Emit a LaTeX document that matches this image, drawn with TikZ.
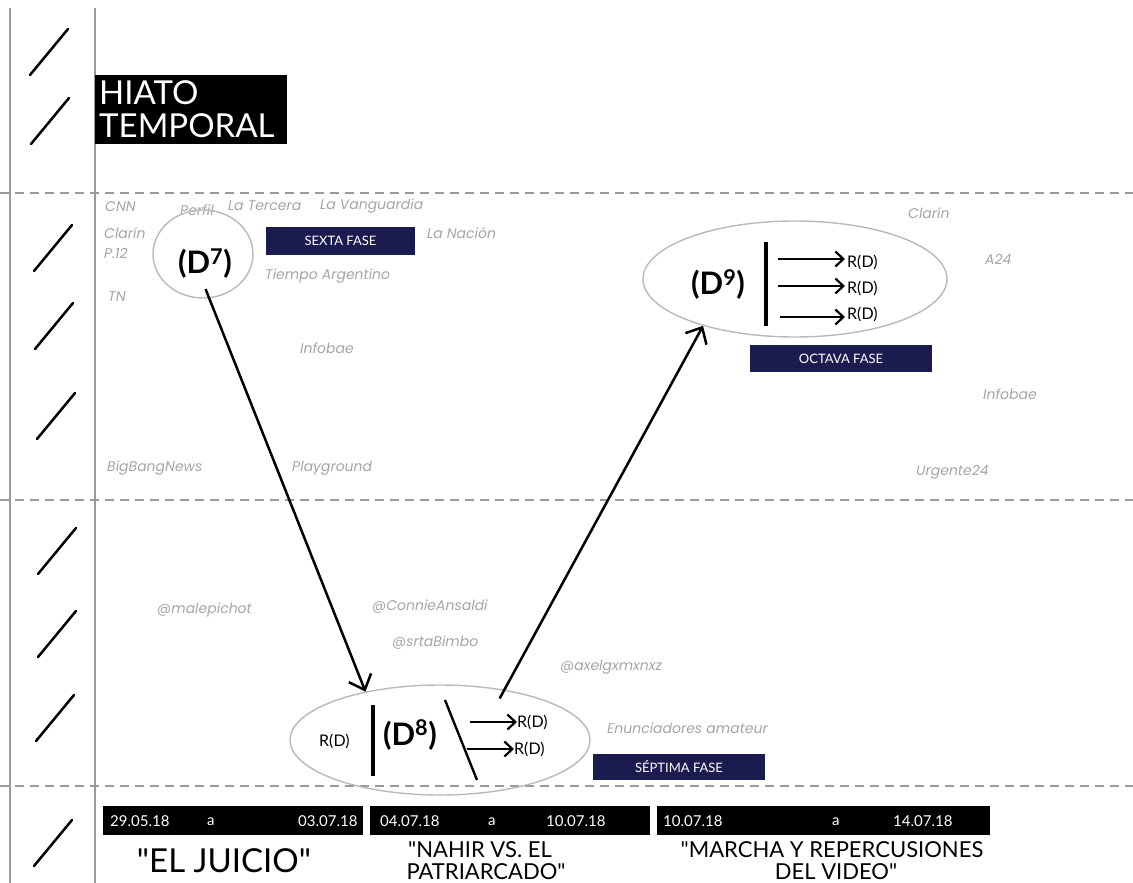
\documentclass[tikz,border=0pt]{standalone}
\usepackage{fontspec}
\setmainfont{Lato}
\newfontfamily\labf{Poppins}
\newfontfamily\tfont{Lato}
\usetikzlibrary{shapes.geometric,arrows.meta}
\definecolor{navy}{HTML}{1B1B50}
\definecolor{lab}{HTML}{A5A5A5}
\definecolor{rulec}{HTML}{9A9A9A}
\newcommand\fs[1]{\fontsize{#1}{#1}\selectfont}
\begin{document}
\begin{tikzpicture}[x=1pt,y=-1pt,
  vrule/.style={draw=rulec,line width=2.5pt},
  hdash/.style={draw=rulec,line width=1.3pt,dash pattern=on 9pt off 6pt},
  slashline/.style={line width=2.5pt,line cap=round},
  src/.style={anchor=west,inner sep=0pt,text=lab,font=\labf\itshape\fs{14}},
  fase/.style={fill=navy,text=white,font=\fs{13},inner sep=0pt},
  ell/.style={ellipse,draw=gray!55,line width=1.4pt,inner sep=0pt},
  bigarrow/.style={line width=2.5pt,-{Straight Barb[length=13pt,width=24pt,line width=2.5pt]}},
  smallarrow/.style={line width=2.2pt,-{Straight Barb[length=8pt,width=15pt,line width=2.2pt]}},
  bar/.style={line width=3.2pt},
  datebar/.style={fill=black,inner sep=0pt,minimum height=29pt},
  datetxt/.style={text=white,font=\fs{15},anchor=west,inner sep=0pt},
  dnode/.style={font=\bfseries\fs{31},inner sep=0pt},
  rd/.style={font=\fs{16},inner sep=0pt,anchor=west},
  title/.style={font=\tfont\fs{22},inner sep=0pt,anchor=base},
  hiatotxt/.style={font=\fs{33},text=white,inner sep=0pt,anchor=base west}]
\fill[white] (0,0) rectangle (1133,883);
\useasboundingbox (0,0) rectangle (1133,883);
% vertical rules
\draw[vrule] (10,8) -- (10,883);
\draw[vrule] (95,8) -- (95,883);
% dashed separators
\foreach \yy in {193,500,786} \draw[hdash] (0,\yy) -- (1133,\yy);
% slashes
\foreach \xx/\yy in {49/52,50/121,53/248,54/326,56/416,57/551,57/634,55/718,53/843}
  \draw[slashline] ({\xx-19},{\yy+23}) -- ({\xx+19},{\yy-23});
% hiato
\node[fill=black,anchor=north west,inner sep=0pt,minimum width=192pt,minimum height=69pt] (hiato) at (95,75) {};
\node[hiatotxt] (hiato1) at (99,104) {HIATO};
\node[hiatotxt] (hiato2) at (99,137) {TEMPORAL};
% labels
\node[src] (cnn) at (105,207) {CNN};
\node[src] (perfil) at (180,210) {Perfil};
\node[src] (tercera) at (228,206) {La Tercera};
\node[src] (vang) at (320,206) {La Vanguardia};
\node[src] (clarin1) at (104,233) {Clarín};
\node[src] (p12) at (104,253) {P.12};
\node[src] (nacion) at (427,233) {La Nación};
\node[src] (tiempo) at (265,276) {Tiempo Argentino};
\node[src] (tn) at (108,297) {TN};
\node[src] (infobae1) at (300,348) {Infobae};
\node[src] (bbn) at (107,468) {BigBangNews};
\node[src] (play) at (292,468) {Playground};
\node[src] (clarin2) at (908,213) {Clarín};
\node[src] (a24) at (985,259) {A24};
\node[src] (infobae2) at (983,394) {Infobae};
\node[src] (urg) at (916,472) {Urgente24};
\node[src] (male) at (157,610) {@malepichot};
\node[src] (connie) at (372,607) {@ConnieAnsaldi};
\node[src] (srta) at (392,643) {@srtaBimbo};
\node[src] (axel) at (560,667) {@axelgxmxnxz};
\node[src] (enun) at (607,728) {Enunciadores amateur};
% fase boxes
\node[fase,minimum width=149pt,minimum height=28pt] (sexta) at (340.5,241) {SEXTA FASE};
\node[fase,minimum width=182pt,minimum height=27pt] (octava) at (841,358.5) {OCTAVA FASE};
\node[fase,minimum width=172pt,minimum height=26pt] (septima) at (679,767) {SÉPTIMA FASE};
% D7
\node[ell,minimum width=100pt,minimum height=88pt] (d7) at (203,254) {};
\node[dnode] (d7t) at (205,264) {(D\textsuperscript{7})};
% D9
\node[ell,minimum width=304pt,minimum height=116pt] (d9) at (795,279) {};
\node[dnode] (d9t) at (718,285) {(D\textsuperscript{9})};
\draw[bar] (766,242) -- (766,326);
\node[rd] (r91) at (847,262) {R(D)};
\node[rd] (r92) at (847,288) {R(D)};
\node[rd] (r93) at (847,314) {R(D)};
\coordinate (a91) at (778,259);
\coordinate (a92) at (778,286);
\coordinate (a93) at (780,317);
\draw[smallarrow,shorten >=2pt] (a91) -- (a91 -| r91.west);
\draw[smallarrow,shorten >=2pt] (a92) -- (a92 -| r92.west);
\draw[smallarrow,shorten >=2pt] (a93) -- (a93 -| r93.west);
% D8
\node[ell,minimum width=300pt,minimum height=110pt] (d8) at (440,740) {};
\node[rd] (r8l) at (319,741) {R(D)};
\draw[bar] (373,705) -- (373,776);
\node[dnode] (d8t) at (410,735) {(D\textsuperscript{8})};
\draw[line width=2.4pt] (445,700) -- (477,780);
\node[rd] (r81) at (517,722) {R(D)};
\node[rd] (r82) at (514,749) {R(D)};
\coordinate (a81) at (470,722);
\coordinate (a82) at (467,749);
\draw[smallarrow] (a81) -- (a81 -| r81.west);
\draw[smallarrow] (a82) -- (a82 -| r82.west);
% main connectors
\draw[bigarrow,shorten <=-10pt] (d7.-82) -- (d8.147);
\draw[bigarrow,shorten <=-10pt] (d8.38) -- (d9.207);
% dates
\node[datebar,minimum width=260pt] (b1) at (233,820.5) {};
\node[datebar,minimum width=280pt] (b2) at (510,820.5) {};
\node[datebar,minimum width=333pt] (b3) at (823.5,820.5) {};
\node[datetxt] at (110,821) {29.05.18};
\node[datetxt] at (207,822) {a};
\node[datetxt] at (298,821) {03.07.18};
\node[datetxt] at (380,821) {04.07.18};
\node[datetxt] at (488,822) {a};
\node[datetxt] at (546,821) {10.07.18};
\node[datetxt] at (663,821) {10.07.18};
\node[datetxt] at (832,822) {a};
\node[datetxt] at (893,821) {14.07.18};
% titles
\node[font=\tfont\fs{33},inner sep=0pt,anchor=base] (t1) at (224,872) {"EL JUICIO"};
\node[title] (t2a) at (480,857) {"NAHIR VS. EL};
\node[title] (t2b) at (486,879) {PATRIARCADO"};
\node[title] (t3a) at (832,857) {"MARCHA Y REPERCUSIONES};
\node[title] (t3b) at (836,879) {DEL VIDEO"};
\end{tikzpicture}
\end{document}
